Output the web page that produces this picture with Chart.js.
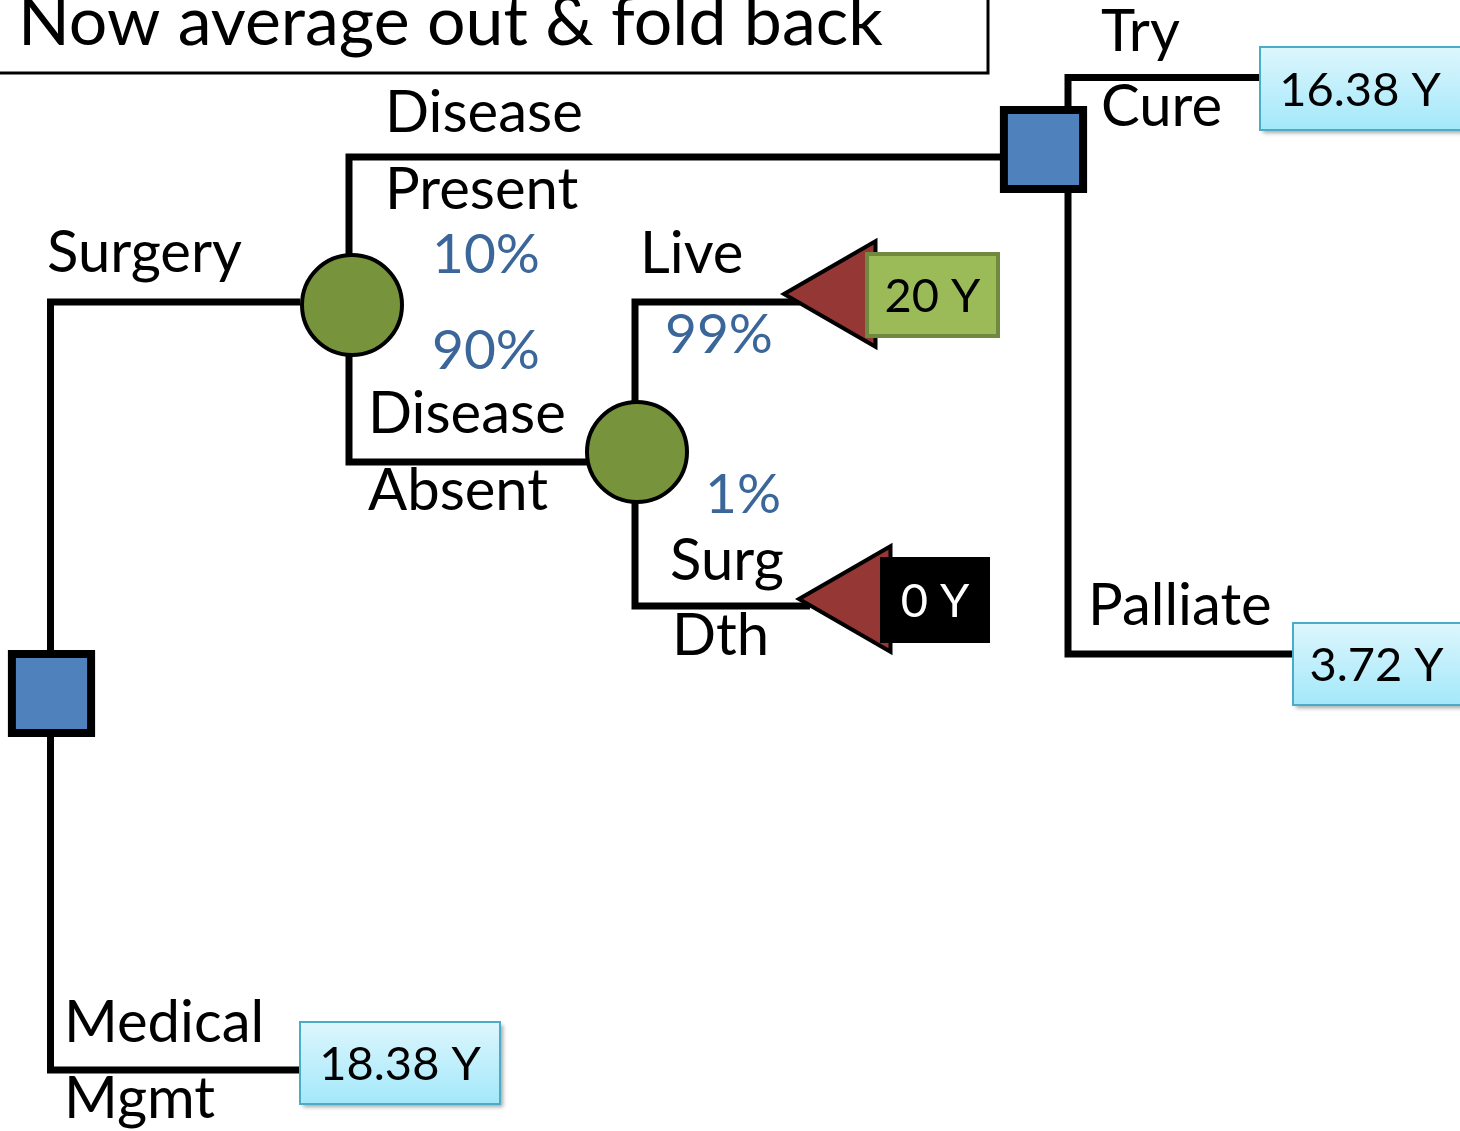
<!DOCTYPE html>
<html>
<head>
<meta charset="utf-8">
<style>
  html, body { margin: 0; padding: 0; background: #ffffff; }
  #wrap { width: 1460px; height: 1131px; }
</style>
<script src="https://cdn.jsdelivr.net/npm/chart.js@4.4.1/dist/chart.umd.min.js"></script>
</head>
<body>
<div id="wrap"><canvas id="c" width="1460" height="1131"></canvas></div>
<script>
// ---------- DATA (diagram coordinates: x to the right, y downward) ----------
const titleText = 'Now average out & fold back';

// Branch connectors (elbow polylines)
const edgeSurgeryMedical = [[300, 302], [50.5, 302], [50.5, 1070], [300, 1070]];
const edgeDiseaseBranch  = [[1003, 157], [349, 157], [349, 462], [600, 462]];
const edgeOutcomeBranch  = [[800, 302], [635, 302], [635, 606], [810, 606]];
const edgeCureBranch     = [[1260, 77.5], [1068, 77.5], [1068, 654], [1293, 654]];

// Nodes
const decisionNodes = [[51.5, 693.5], [1043.5, 149.5]];
const chanceNodes   = [[352, 305], [637, 452]];
const terminalNodes = [[845, 294], [860, 599]];

// Branch labels
const branchLabelText = ['Try', 'Cure', 'Disease', 'Present', 'Surgery', 'Live', 'Disease', 'Absent', 'Surg', 'Dth', 'Palliate', 'Medical', 'Mgmt'];
const branchLabelPos  = [[1101, 51], [1101, 126], [385, 132], [385, 209], [47, 272], [640, 273], [368, 433], [368, 510], [670, 580], [672, 655], [1088, 625], [64, 1042], [64, 1118]];

// Probabilities
const probabilityText = ['10%', '90%', '99%', '1%'];
const probabilityPos  = [[432, 273], [432, 369], [665, 353], [705, 513]];

// Outcome / expected values
const outcomeText = ['16.38 Y', '3.72 Y', '18.38 Y', '20 Y', '0 Y'];
const outcomeKind = ['ev', 'ev', 'ev', 'live', 'death'];
const outcomeBox  = [[1260, 47, 1475, 130], [1293, 623, 1475, 705], [300, 1022, 500, 1104], [865, 252, 1000, 338], [880, 557, 990, 643]];

// ---------- CHART ----------
const FONT = 'Lato, "Open Sans", sans-serif';
const BLACK = '#000000';

function pts(arr) { return arr.map(p => ({ x: p[0], y: p[1] })); }

function edgeDataset(path) {
  return {
    type: 'line', data: pts(path), showLine: true, fill: false,
    borderColor: BLACK, borderWidth: 7, borderJoinStyle: 'miter', borderCapStyle: 'butt',
    pointRadius: 0, tension: 0, clip: false, order: 10
  };
}

const datasets = [
  { type: 'scatter', data: pts(decisionNodes), pointStyle: 'rect', pointRadius: 56,
    pointBackgroundColor: '#4F81BD', pointBorderColor: BLACK, pointBorderWidth: 8, clip: false, order: 1 },
  { type: 'scatter', data: pts(chanceNodes), pointStyle: 'circle', pointRadius: 50,
    pointBackgroundColor: '#77933C', pointBorderColor: BLACK, pointBorderWidth: 4, clip: false, order: 1 },
  { type: 'scatter', data: pts(terminalNodes), pointStyle: 'triangle', pointRadius: 61, pointRotation: -90,
    pointBackgroundColor: '#953735', pointBorderColor: BLACK, pointBorderWidth: 4, clip: false, order: 1 },
  edgeDataset(edgeSurgeryMedical),
  edgeDataset(edgeDiseaseBranch),
  edgeDataset(edgeOutcomeBranch),
  edgeDataset(edgeCureBranch)
];

const annotatePlugin = {
  id: 'annotate',
  beforeDatasetsDraw(chart) {
    const { ctx, scales: { x, y } } = chart;
    ctx.save();
    ctx.strokeStyle = BLACK;
    ctx.lineWidth = 3;
    const tx0 = x.getPixelForValue(-10), ty0 = y.getPixelForValue(-10);
    ctx.strokeRect(tx0, ty0, x.getPixelForValue(988) - tx0, y.getPixelForValue(73) - ty0);
    ctx.fillStyle = BLACK;
    ctx.font = '68px ' + FONT;
    ctx.textBaseline = 'alphabetic';
    ctx.fillText(titleText, x.getPixelForValue(18), y.getPixelForValue(45));
    ctx.restore();
  },
  afterDatasetsDraw(chart) {
    const { ctx, scales: { x, y } } = chart;
    ctx.save();
    ctx.textBaseline = 'alphabetic';
    ctx.textAlign = 'left';
    ctx.fillStyle = BLACK;
    ctx.font = '58px ' + FONT;
    branchLabelText.forEach((t, i) => {
      ctx.fillText(t, x.getPixelForValue(branchLabelPos[i][0]), y.getPixelForValue(branchLabelPos[i][1]));
    });
    ctx.fillStyle = '#3A6699';
    ctx.font = '55px ' + FONT;
    probabilityText.forEach((t, i) => {
      ctx.fillText(t, x.getPixelForValue(probabilityPos[i][0]), y.getPixelForValue(probabilityPos[i][1]));
    });
    outcomeText.forEach((t, i) => {
      const b = outcomeBox[i];
      const x0 = x.getPixelForValue(b[0]), y0 = y.getPixelForValue(b[1]);
      const x1 = x.getPixelForValue(b[2]), y1 = y.getPixelForValue(b[3]);
      const w = x1 - x0, h = y1 - y0;
      const kind = outcomeKind[i];
      ctx.save();
      if (kind === 'ev') {
        const g = ctx.createLinearGradient(0, y0, 0, y1);
        g.addColorStop(0, '#DDF6FD');
        g.addColorStop(1, '#A3E8FA');
        ctx.shadowColor = 'rgba(0,0,0,0.35)';
        ctx.shadowOffsetX = 3; ctx.shadowOffsetY = 3; ctx.shadowBlur = 4;
        ctx.fillStyle = g;
        ctx.fillRect(x0, y0, w, h);
        ctx.shadowColor = 'transparent';
        ctx.strokeStyle = '#4BACC6';
        ctx.lineWidth = 2;
        ctx.strokeRect(x0, y0, w, h);
      } else if (kind === 'live') {
        ctx.fillStyle = '#9BBB59';
        ctx.fillRect(x0, y0, w, h);
        ctx.strokeStyle = '#71893F';
        ctx.lineWidth = 4;
        ctx.strokeRect(x0 + 2, y0 + 2, w - 4, h - 4);
      } else {
        ctx.fillStyle = '#000000';
        ctx.fillRect(x0, y0, w, h);
      }
      ctx.restore();
      ctx.fillStyle = kind === 'death' ? '#FFFFFF' : BLACK;
      ctx.font = '47px ' + FONT;
      ctx.textAlign = 'center';
      const cx = kind === 'ev' ? (x0 + Math.min(x1, 1460)) / 2 : (x0 + x1) / 2;
      ctx.fillText(t, cx, (y0 + y1) / 2 + 17);
      ctx.textAlign = 'left';
    });
    ctx.restore();
  }
};

new Chart(document.getElementById('c'), {
  type: 'scatter',
  data: { datasets },
  options: {
    responsive: false,
    animation: false,
    events: [],
    layout: { padding: 0, autoPadding: false },
    scales: {
      x: { type: 'linear', min: 0, max: 1460, display: false },
      y: { type: 'linear', min: 0, max: 1131, reverse: true, display: false }
    },
    plugins: { legend: { display: false }, tooltip: { enabled: false }, title: { display: false } }
  },
  plugins: [annotatePlugin]
});
</script>
</body>
</html>
